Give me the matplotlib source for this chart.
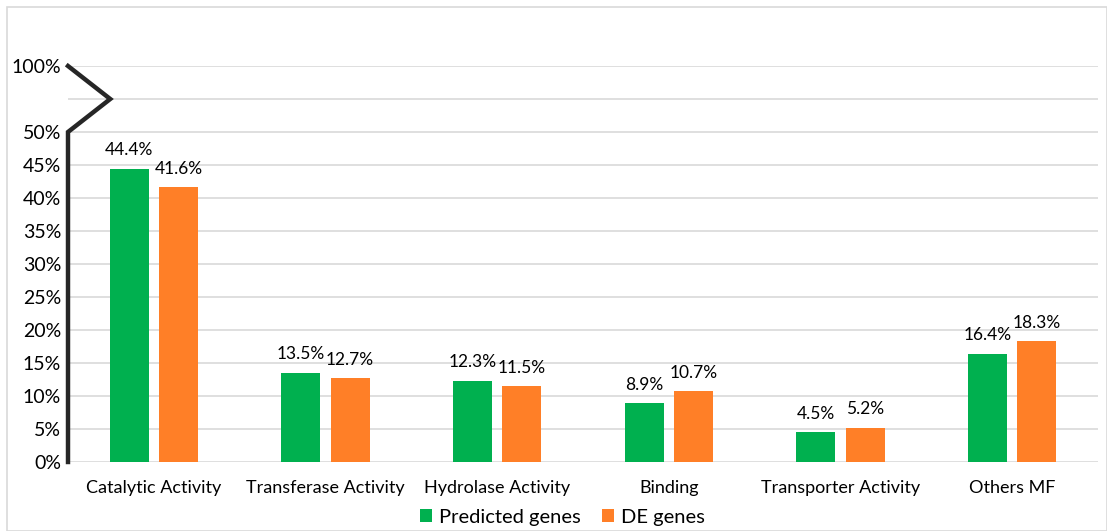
import matplotlib.pyplot as plt
import matplotlib.transforms as mtransforms
from matplotlib.patches import Rectangle
import numpy as np

categories = ["Catalytic Activity", "Transferase Activity", "Hydrolase Activity",
              "Binding", "Transporter Activity", "Others MF"]
predicted = [44.4, 13.5, 12.3, 8.9, 4.5, 16.4]
de_genes = [41.6, 12.7, 11.5, 10.7, 5.2, 18.3]
series_names = ["Predicted genes", "DE genes"]

# broken axis: 0-50% on a linear scale, then a break slot, then 100%
tick_pos = [0, 5, 10, 15, 20, 25, 30, 35, 40, 45, 50, 55, 60]
tick_labels = ["0%", "5%", "10%", "15%", "20%", "25%", "30%", "35%", "40%",
               "45%", "50%", "", "100%"]

green = "#00B04F"
orange = "#FF7F27"

plt.rcParams["font.family"] = ["Lato", "DejaVu Sans"]

fig = plt.figure(figsize=(11.07, 5.31), dpi=100)
ax = fig.add_axes([68 / 1107, 69 / 531, 1030 / 1107, 396 / 531])

x = np.arange(len(categories))
w = 0.227
off = 0.143
b1 = ax.bar(x - off, predicted, w, color=green, label=series_names[0], zorder=3)
b2 = ax.bar(x + off, de_genes, w, color=orange, label=series_names[1], zorder=3)

for bars, vals in ((b1, predicted), (b2, de_genes)):
    for r, v in zip(bars, vals):
        ax.text(r.get_x() + r.get_width() / 2, v + 1.6, f"{v:.1f}%",
                ha="center", va="bottom", fontsize=12.5, color="#000000")

ax.set_xlim(-0.5, len(categories) - 0.5)
ax.set_ylim(0, 60)
ax.set_yticks(tick_pos)
ax.set_yticklabels(tick_labels, fontsize=14)
ax.set_xticks(x)
ax.set_xticklabels(categories, fontsize=13)
ax.tick_params(axis="both", length=0)
ax.tick_params(axis="y", pad=5)
ax.tick_params(axis="x", pad=13)
ax.yaxis.grid(True, color="#D9D9D9", linewidth=1.2, zorder=0)
ax.set_axisbelow(True)
for s in ax.spines.values():
    s.set_visible(False)

# axis line with the zigzag break
trans = mtransforms.blended_transform_factory(ax.transAxes, ax.transData)
ax.plot([0, 0, 0.041, 0], [0, 50, 55, 60], color="#262626", linewidth=3.2,
        transform=trans, clip_on=False, zorder=4, solid_joinstyle="miter")

ax.legend(loc="center", bbox_to_anchor=(0.48, -0.14), ncol=2, frameon=False,
          fontsize=14.5, handlelength=0.6, handleheight=0.6, handletextpad=0.3,
          columnspacing=1.1)

# outer chart border
fig.patches.append(Rectangle((7 / 1107, 0), 1 - 7 / 1107, 1 - 7 / 531,
                             transform=fig.transFigure, fill=False,
                             edgecolor="#D9D9D9", linewidth=1.2))

fig.savefig("out.png", dpi=100)
